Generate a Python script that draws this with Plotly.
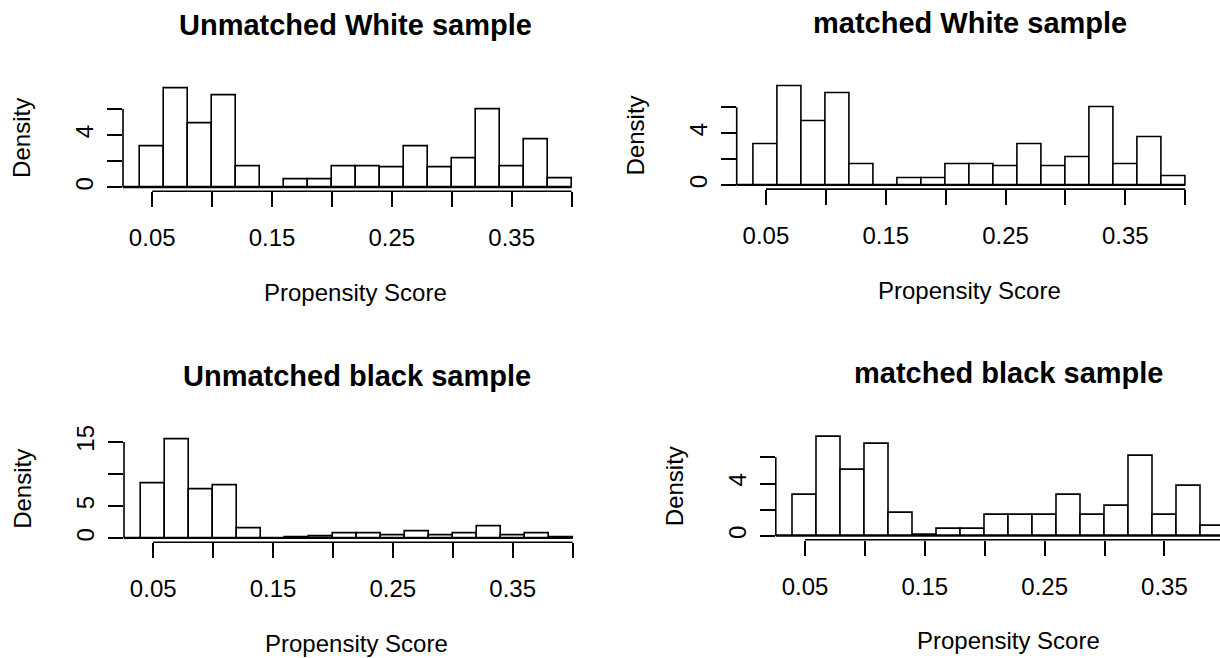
import plotly.graph_objects as go

# ---------------- data ----------------
bin_edges = [0.02, 0.04, 0.06, 0.08, 0.10, 0.12, 0.14, 0.16, 0.18, 0.20,
             0.22, 0.24, 0.26, 0.28, 0.30, 0.32, 0.34, 0.36, 0.38, 0.40]

unmatched_white = [0, 3.15, 7.58, 4.88, 7.05, 1.63, 0, 0.58, 0.58, 1.63,
                   1.63, 1.50, 3.15, 1.50, 2.18, 5.98, 1.63, 3.68, 0.70]
matched_white = [0, 3.14, 7.61, 4.90, 7.05, 1.63, 0, 0.55, 0.55, 1.63,
                 1.63, 1.48, 3.14, 1.48, 2.16, 6.00, 1.63, 3.67, 0.70]
unmatched_black = [0, 8.49, 15.40, 7.63, 8.19, 1.58, 0, 0.20, 0.25, 0.71,
                   0.71, 0.50, 1.07, 0.50, 0.76, 1.88, 0.50, 0.76, 0.20]
matched_black = [0, 3.14, 7.56, 5.00, 7.05, 1.78, 0.10, 0.53, 0.53, 1.58,
                 1.58, 1.58, 3.14, 1.58, 2.28, 6.10, 1.58, 3.79, 0.78]

titles = ["Unmatched White sample", "matched White sample",
          "Unmatched black sample", "matched black sample"]

x_tickvals = [0.05, 0.10, 0.15, 0.20, 0.25, 0.30, 0.35, 0.40]
x_ticktext = ["0.05", "", "0.15", "", "0.25", "", "0.35", ""]
white_yticks = [0, 2, 4, 6]
white_ylabels = ["0", "", "4", ""]
black_yticks = [0, 5, 10, 15]
black_ylabels = ["0", "5", "", "15"]
xlim = (0.04, 0.40)

x_label = "Propensity Score"
y_label = "Density"

# ---------------- layout constants ----------------
FIG_W, FIG_H = 1220, 658
BOX_W, BOX_H = 465.8, 108.5
boxes = [(123.0, 75.6), (736.7, 73.4), (124.0, 432.0), (775.8, 429.5)]
TITLE_OFF = 60.5
FONT = "Liberation Sans, Arial, sans-serif"
LW = 1.6
INK = "black"

panels = [
    (unmatched_white, white_yticks, white_ylabels),
    (matched_white, white_yticks, white_ylabels),
    (unmatched_black, black_yticks, black_ylabels),
    (matched_black, white_yticks, white_ylabels),
]

centers = [(a + b) / 2 for a, b in zip(bin_edges[:-1], bin_edges[1:])]
widths = [b - a for a, b in zip(bin_edges[:-1], bin_edges[1:])]

fig = go.Figure()
layout = {}
shapes = []
annotations = []

for i, ((dens, yt, yl), (left, top), title) in enumerate(zip(panels, boxes, titles)):
    k = "" if i == 0 else str(i + 1)
    xa, ya = "x" + k, "y" + k
    span = xlim[1] - xlim[0]
    xr0, xr1 = xlim[0] - 0.04 * span, xlim[1] + 0.04 * span
    ppu = BOX_W / (xr1 - xr0)
    right = left + BOX_W
    if right > FIG_W:
        xr1 = xr0 + (FIG_W - left) / ppu
        right = FIG_W
    m = max(dens)
    yr0, yr1 = -0.04 * m, 1.04 * m
    bottom = top + BOX_H
    dx = [left / FIG_W, right / FIG_W]
    dy = [1 - bottom / FIG_H, 1 - top / FIG_H]

    fig.add_trace(go.Bar(
        x=centers, y=dens, width=widths, xaxis=xa, yaxis=ya,
        marker=dict(color="white", line=dict(color=INK, width=LW)),
        showlegend=False, hoverinfo="skip"))
    fig.add_trace(go.Scatter(
        x=[bin_edges[0], bin_edges[-1]], y=[0, 0], xaxis=xa, yaxis=ya,
        mode="lines", line=dict(color=INK, width=LW),
        showlegend=False, hoverinfo="skip"))

    layout["xaxis" + k] = dict(
        domain=dx, range=[xr0, xr1], anchor=ya, showgrid=False, zeroline=False,
        showline=False, ticks="outside", ticklen=15, tickwidth=LW, tickcolor=INK,
        tickmode="array", tickvals=x_tickvals, ticktext=x_ticktext,
        tickfont=dict(family=FONT, size=24, color=INK), ticklabelstandoff=10)
    layout["yaxis" + k] = dict(
        domain=dy, range=[yr0, yr1], anchor=xa, showgrid=False, zeroline=False,
        showline=False, ticks="outside", ticklen=15, tickwidth=LW, tickcolor=INK,
        tickmode="array", tickvals=yt, ticktext=yl, tickangle=-90,
        tickfont=dict(family=FONT, size=24, color=INK), ticklabelstandoff=4)

    # R-style axis lines spanning first..last tick
    shapes.append(dict(type="line", xref=xa, yref="paper",
                       x0=x_tickvals[0], x1=x_tickvals[-1], y0=dy[0], y1=dy[0],
                       line=dict(color=INK, width=LW)))
    shapes.append(dict(type="line", xref="paper", yref=ya,
                       x0=dx[0], x1=dx[0], y0=yt[0], y1=yt[-1],
                       line=dict(color=INK, width=LW)))

    cx = (left + BOX_W / 2) / FIG_W
    annotations.append(dict(text="<b>" + title + "</b>", x=cx, y=1 - (top - TITLE_OFF) / FIG_H,
                            xref="paper", yref="paper", showarrow=False,
                            xanchor="center", yanchor="middle",
                            font=dict(family=FONT, size=29, color=INK)))
    annotations.append(dict(text=x_label, x=cx, y=1 - (bottom + 102.5) / FIG_H,
                            xref="paper", yref="paper", showarrow=False,
                            xanchor="center", yanchor="middle",
                            font=dict(family=FONT, size=24, color=INK)))
    annotations.append(dict(text=y_label, x=(left - 101) / FIG_W,
                            y=1 - (top + BOX_H / 2) / FIG_H,
                            xref="paper", yref="paper", showarrow=False, textangle=-90,
                            xanchor="center", yanchor="middle",
                            font=dict(family=FONT, size=24, color=INK)))

fig.update_layout(
    width=FIG_W, height=FIG_H, margin=dict(l=0, r=0, t=0, b=0),
    paper_bgcolor="white", plot_bgcolor="white", bargap=0,
    shapes=shapes, annotations=annotations, **layout)

fig.write_html("out.html")
